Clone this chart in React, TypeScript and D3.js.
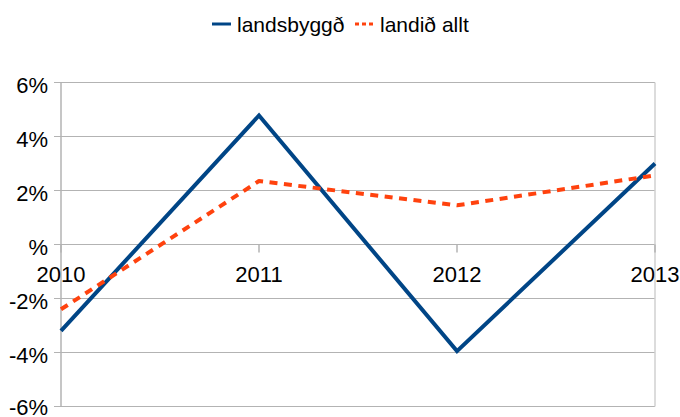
import React from "react";
import * as d3 from "d3";

const categories = ["2010", "2011", "2012", "2013"];
const landsbyggd = [-3.2, 4.78, -3.95, 3.0];
const landidAllt = [-2.4, 2.35, 1.45, 2.56];
const yTicks = [6, 4, 2, 0, -2, -4, -6];
const yTickLabels = ["6%", "4%", "2%", "%", "-2%", "-4%", "-6%"];

const W = 680;
const H = 417;
const left = 61;
const right = 655;
const top = 82.5;
const bottom = 406.5;
const font = "'Liberation Sans', Arial, sans-serif";

export default function App() {
  const x = d3.scalePoint<string>().domain(categories).range([left, right]);
  const y = d3.scaleLinear().domain([-6, 6]).range([bottom, top]);
  const grid = "#b3b3b3";

  const line = d3
    .line<number>()
    .x((_, i) => x(categories[i]) as number)
    .y((d) => y(d));

  return (
    <svg width={W} height={H} style={{ position: "absolute", left: 0, top: 0 }}>
      <rect x={0} y={0} width={W} height={H} fill="#fff" />
      {yTicks.map((t, i) => (
        <g key={t}>
          <line x1={left - 7} x2={right} y1={y(t)} y2={y(t)} stroke={grid} strokeWidth={1.2} />
          <text
            x={48}
            y={Math.min(y(t) + 10, 415)}
            textAnchor="end"
            fontFamily={font}
            fontSize={22}
            fill="#000"
          >
            {yTickLabels[i]}
          </text>
        </g>
      ))}
      <line x1={left} x2={left} y1={top} y2={bottom} stroke={grid} strokeWidth={1.5} />
      <line x1={right} x2={right} y1={top} y2={bottom} stroke="#d0d0d0" strokeWidth={1.5} />
      {categories.map((c) => (
        <g key={c}>
          <line
            x1={x(c)}
            x2={x(c)}
            y1={y(0)}
            y2={y(0) + 8}
            stroke={grid}
            strokeWidth={1.5}
          />
          <text
            x={x(c)}
            y={y(0) + 37.5}
            textAnchor="middle"
            fontFamily={font}
            fontSize={22}
            fill="#000"
          >
            {c}
          </text>
        </g>
      ))}
      <path
        d={line(landsbyggd) || ""}
        fill="none"
        stroke="#004586"
        strokeWidth={4}
        strokeLinejoin="miter"
      />
      <path
        d={line(landidAllt) || ""}
        fill="none"
        stroke="#ff420e"
        strokeWidth={4}
        strokeLinejoin="round"
        strokeDasharray="8,6.5"
      />
      <line x1={212} x2={231} y1={24} y2={24} stroke="#004586" strokeWidth={3} />
      <text x={237} y={32} fontFamily={font} fontSize={21} fill="#000">
        landsbyggð
      </text>
      <line
        x1={355}
        x2={376}
        y1={24}
        y2={24}
        stroke="#ff420e"
        strokeWidth={3}
        strokeDasharray="4,3"
      />
      <text x={380} y={32} fontFamily={font} fontSize={21} fill="#000">
        landið allt
      </text>
    </svg>
  );
}
